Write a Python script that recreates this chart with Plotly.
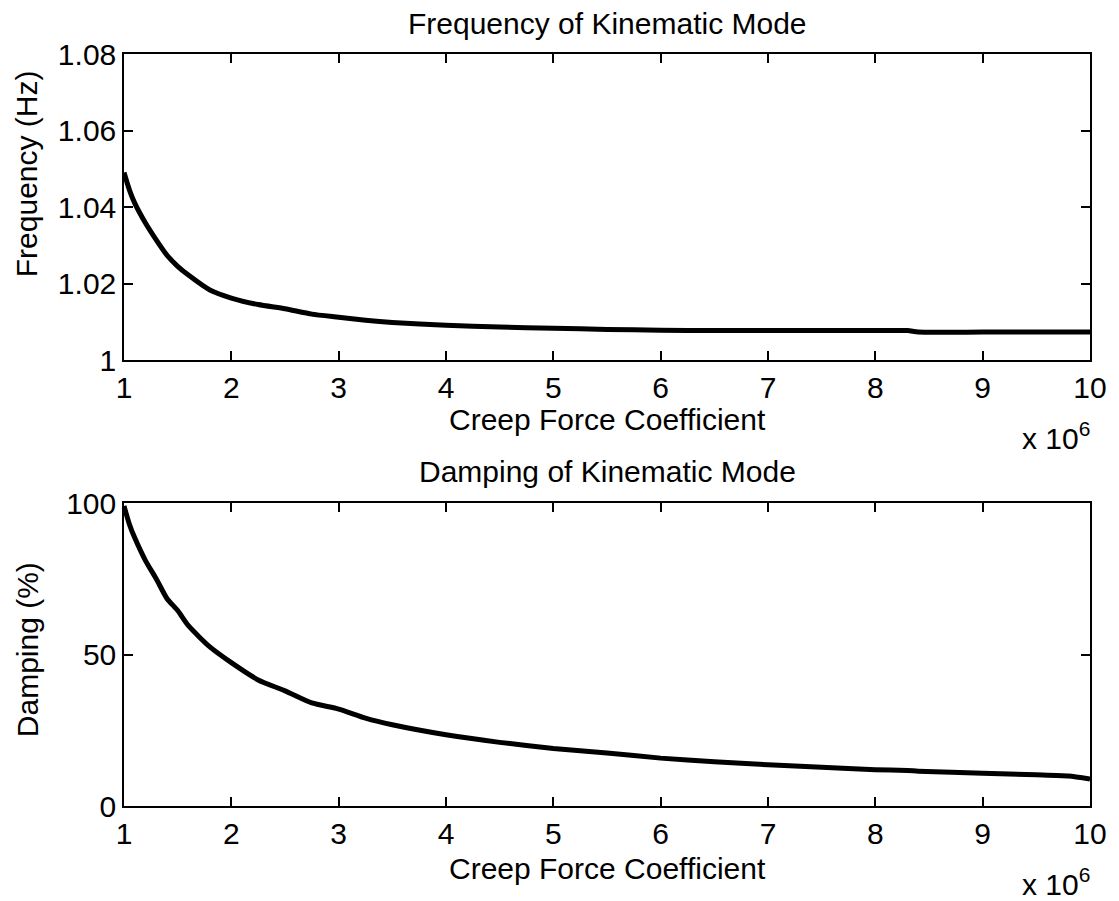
import plotly.graph_objects as go
from plotly.subplots import make_subplots

# Creep force coefficient (x 10^6)
creep = [1.0, 1.05, 1.1, 1.2, 1.3, 1.4, 1.5, 1.6, 1.8, 2.0, 2.25, 2.5, 2.75, 3.0, 3.25, 3.5,
         4.0, 4.5, 5.0, 5.5, 6.0, 6.5, 7.0, 7.5, 8.0, 8.3, 8.4, 9.0, 9.5, 9.8, 10.0]

# Frequency of kinematic mode (Hz)
frequency = [1.049, 1.0445, 1.041, 1.0358, 1.0314, 1.0274, 1.0245, 1.0222, 1.0183, 1.0162,
             1.0145, 1.0134, 1.0120, 1.0112, 1.0104, 1.0098, 1.0091, 1.0086, 1.0083, 1.0080,
             1.0078, 1.0077, 1.0077, 1.0077, 1.0077, 1.0077, 1.0073, 1.0073, 1.0073, 1.0073, 1.0073]

# Damping of kinematic mode (%)
damping = [99.0, 93.0, 88.5, 81.0, 75.0, 68.5, 64.5, 59.5, 52.5, 47.3, 41.6, 38.0, 34.0, 32.0,
           29.0, 26.8, 23.5, 21.0, 19.0, 17.5, 15.8, 14.6, 13.6, 12.8, 12.0, 11.7, 11.5, 10.8,
           10.3, 9.9, 8.9]

x_ticks = [1, 2, 3, 4, 5, 6, 7, 8, 9, 10]
x_tick_labels = [str(v) for v in x_ticks]
freq_ticks = [1.0, 1.02, 1.04, 1.06, 1.08]
freq_tick_labels = ["1", "1.02", "1.04", "1.06", "1.08"]
damp_ticks = [0, 50, 100]
damp_tick_labels = ["0", "50", "100"]

FONT = "Liberation Sans, Arial, Helvetica, sans-serif"
W, H = 1119, 901
L, R, T, B = 124, 27, 54, 95
plot_h = H - T - B  # 752

top_dom = [(806 - 360) / plot_h, 1.0]
bot_dom = [0.0, (806 - 503) / plot_h]

fig = make_subplots(rows=2, cols=1)
fig.add_trace(go.Scatter(x=creep, y=frequency, mode="lines", hoverinfo="skip",
                         line=dict(color="black", width=5, shape="spline", smoothing=0.6),
                         showlegend=False), row=1, col=1)
fig.add_trace(go.Scatter(x=creep, y=damping, mode="lines", hoverinfo="skip",
                         line=dict(color="black", width=5, shape="spline", smoothing=0.6),
                         showlegend=False), row=2, col=1)

axis_common = dict(showline=True, linecolor="black", linewidth=1.5, mirror="ticks",
                   ticks="inside", ticklen=9, tickwidth=1.5, tickcolor="black",
                   showgrid=False, zeroline=False,
                   tickfont=dict(family=FONT, size=30, color="black"))

fig.update_xaxes(range=[1, 10], tickvals=x_ticks, ticktext=x_tick_labels, **axis_common)
fig.update_xaxes(domain=[0, 1])
fig.update_layout(
    xaxis=dict(anchor="y"),
    yaxis=dict(domain=top_dom, range=[1.0, 1.08], tickvals=freq_ticks,
               ticktext=freq_tick_labels, **axis_common),
    xaxis2=dict(anchor="y2"),
    yaxis2=dict(domain=bot_dom, range=[0, 100], tickvals=damp_ticks,
                ticktext=damp_tick_labels, **axis_common),
)

def py(px):
    return (806 - px) / plot_h

tfont = dict(family=FONT, size=30, color="black")
ann = [
    dict(text="Frequency of Kinematic Mode", x=0.5, y=py(24), xref="paper", yref="paper",
         showarrow=False, font=tfont, xanchor="center", yanchor="middle"),
    dict(text="Damping of Kinematic Mode", x=0.5, y=py(471), xref="paper", yref="paper",
         showarrow=False, font=tfont, xanchor="center", yanchor="middle"),
    dict(text="Creep Force Coefficient", x=0.5, y=py(419), xref="paper", yref="paper",
         showarrow=False, font=tfont, xanchor="center", yanchor="middle"),
    dict(text="Creep Force Coefficient", x=0.5, y=py(868), xref="paper", yref="paper",
         showarrow=False, font=tfont, xanchor="center", yanchor="middle"),
    dict(text="Frequency (Hz)", x=(27 - L) / (W - L - R), y=py(174), xref="paper", yref="paper",
         showarrow=False, font=tfont, textangle=-90, xanchor="center", yanchor="middle"),
    dict(text="Damping (%)", x=(27 - L) / (W - L - R), y=py(650), xref="paper", yref="paper",
         showarrow=False, font=tfont, textangle=-90, xanchor="center", yanchor="middle"),
    dict(text="x 10<sup>6</sup>", x=(1094 - L) / (W - L - R), y=py(436), xref="paper", yref="paper",
         showarrow=False, font=tfont, xanchor="right", yanchor="middle"),
    dict(text="x 10<sup>6</sup>", x=(1094 - L) / (W - L - R), y=py(882), xref="paper", yref="paper",
         showarrow=False, font=tfont, xanchor="right", yanchor="middle"),
]

fig.update_layout(width=W, height=H, margin=dict(l=L, r=R, t=T, b=B),
                  paper_bgcolor="white", plot_bgcolor="white",
                  font=dict(family=FONT, color="black"), annotations=ann)

fig.write_html("out.html")
